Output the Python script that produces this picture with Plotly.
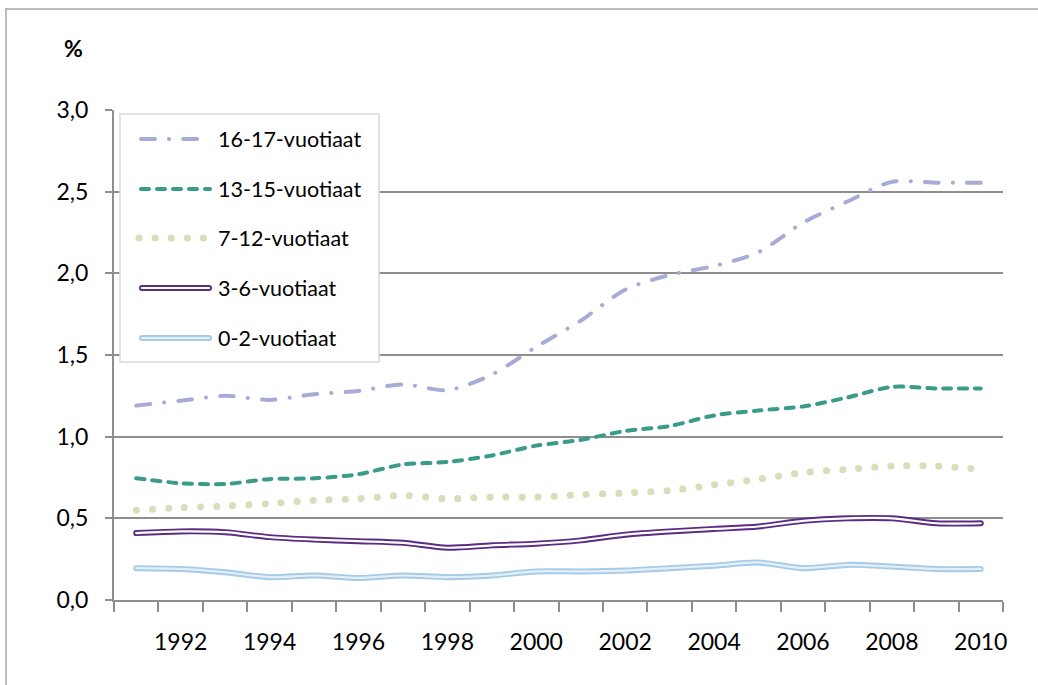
import plotly.graph_objects as go

years = list(range(1991, 2011))
tick_years = list(range(1992, 2011, 2))
tick_labels = [str(y) for y in tick_years]

s_16_17 = [1.19, 1.22, 1.25, 1.225, 1.26, 1.28, 1.32, 1.285, 1.38, 1.55,
           1.71, 1.90, 1.99, 2.045, 2.13, 2.31, 2.44, 2.56, 2.555, 2.555]
s_13_15 = [0.745, 0.715, 0.71, 0.74, 0.745, 0.77, 0.83, 0.845, 0.885, 0.945,
           0.98, 1.035, 1.065, 1.13, 1.16, 1.185, 1.24, 1.305, 1.295, 1.295]
s_7_12 = [0.55, 0.565, 0.575, 0.59, 0.61, 0.62, 0.64, 0.62, 0.63, 0.63,
          0.645, 0.655, 0.67, 0.705, 0.74, 0.78, 0.80, 0.82, 0.82, 0.80]
s_3_6 = [0.41, 0.42, 0.415, 0.385, 0.37, 0.36, 0.35, 0.32, 0.335, 0.345,
         0.365, 0.40, 0.42, 0.435, 0.45, 0.485, 0.50, 0.50, 0.47, 0.47]
s_0_2 = [0.195, 0.19, 0.17, 0.14, 0.15, 0.135, 0.15, 0.14, 0.15, 0.175,
         0.175, 0.18, 0.195, 0.21, 0.23, 0.195, 0.215, 0.205, 0.19, 0.19]

names = ["16-17-vuotiaat", "13-15-vuotiaat", "7-12-vuotiaat", "3-6-vuotiaat", "0-2-vuotiaat"]

C16 = "#A7ABD7"
C13 = "#3A9B8B"
C7 = "#D3E1B9"
C3 = "#5B2C83"
C0 = "#A6CBE6"
C0_IN = "#E2EFF9"
FONT = "Lato"
GRID = "#8E8E8E"

fig = go.Figure()
sm = 0.8
fig.add_trace(go.Scatter(x=years, y=s_0_2, mode="lines", name=names[4], showlegend=False,
                         line=dict(color=C0, width=6, shape="spline", smoothing=sm)))
fig.add_trace(go.Scatter(x=years, y=s_0_2, mode="lines", showlegend=False, hoverinfo="skip",
                         line=dict(color=C0_IN, width=2.2, shape="spline", smoothing=sm)))
fig.add_trace(go.Scatter(x=years, y=s_3_6, mode="lines", name=names[3], showlegend=False,
                         line=dict(color=C3, width=6, shape="spline", smoothing=sm)))
fig.add_trace(go.Scatter(x=years, y=s_3_6, mode="lines", showlegend=False, hoverinfo="skip",
                         line=dict(color="white", width=2.2, shape="spline", smoothing=sm)))
fig.add_trace(go.Scatter(x=years, y=s_7_12, mode="lines", name=names[2], showlegend=False,
                         line=dict(color=C7, width=7, dash="0.1px,16px", shape="spline", smoothing=sm)))
fig.add_trace(go.Scatter(x=years, y=s_13_15, mode="lines", name=names[1], showlegend=False,
                         line=dict(color=C13, width=4, dash="8px,8px", shape="spline", smoothing=sm)))
fig.add_trace(go.Scatter(x=years, y=s_16_17, mode="lines", name=names[0], showlegend=False,
                         line=dict(color=C16, width=4, dash="14px,14px,0.1px,14px", shape="spline", smoothing=sm)))

# plot area in pixels: x 114..1003, y 110..600
L, R, T, B = 114, 1003, 110, 600
W, H = R - L, B - T
def px(x):
    return (x - L) / W
def py(y):
    return (B - y) / H

shapes = []
# outer chart border (left and top)
shapes.append(dict(type="line", xref="paper", yref="paper", x0=px(6), x1=px(6), y0=py(9), y1=py(720),
                   line=dict(color="#A6A6A6", width=1.5)))
shapes.append(dict(type="line", xref="paper", yref="paper", x0=px(6), x1=px(1060), y0=py(9), y1=py(9),
                   line=dict(color="#A6A6A6", width=1.5)))
# legend box
shapes.append(dict(type="rect", xref="paper", yref="paper", x0=px(120), x1=px(379), y0=py(362), y1=py(114),
                   fillcolor="white", line=dict(color="#D9D9D9", width=1.5), layer="above"))
rows = [139, 189, 238, 288, 338]
styles = [
    [dict(color=C16, width=4, dash="14px,14px,0.1px,14px")],
    [dict(color=C13, width=4, dash="8px,8px")],
    [dict(color=C7, width=7, dash="0.1px,16px")],
    [dict(color=C3, width=6, dash="solid"), dict(color="white", width=2.2, dash="solid")],
    [dict(color=C0, width=6, dash="solid"), dict(color=C0_IN, width=2.2, dash="solid")],
]
x_start = [141, 141, 139, 142, 142]
x_end = [200, 210, 210, 209, 209]
for r, st, xs, xe in zip(rows, styles, x_start, x_end):
    for s in st:
        shapes.append(dict(type="line", xref="paper", yref="paper", x0=px(xs), x1=px(xe), y0=py(r), y1=py(r),
                           line=s, layer="above"))

annotations = []
for r, n in zip(rows, names):
    annotations.append(dict(xref="paper", yref="paper", x=px(216), y=py(r), text=n, showarrow=False,
                            xanchor="left", yanchor="middle", font=dict(family=FONT, size=21.5, color="black")))
annotations.append(dict(xref="paper", yref="paper", x=px(73), y=py(48), text="<b>%</b>", showarrow=False,
                        xanchor="center", yanchor="middle", font=dict(family=FONT, size=23, color="black")))

fig.update_layout(
    width=1038, height=685,
    margin=dict(l=L, r=1038 - R, t=T, b=685 - B),
    paper_bgcolor="white", plot_bgcolor="white",
    separators=", ",
    font=dict(family=FONT, size=23, color="black"),
    shapes=shapes, annotations=annotations,
    showlegend=False,
    xaxis=dict(range=[1990.5, 2010.5], tickmode="array", tickvals=tick_years, ticktext=tick_labels,
               ticks="outside", ticklen=0, tickcolor="rgba(0,0,0,0)", showgrid=False, zeroline=False,
               showline=True, linecolor=GRID, linewidth=2, ticklabelstandoff=20,
               minor=dict(tickmode="array", tickvals=[y - 0.5 for y in years] + [2010.5],
                          ticks="outside", ticklen=10, tickcolor=GRID, tickwidth=1.5, showgrid=False),
               tickfont=dict(family=FONT, size=23)),
    yaxis=dict(range=[0, 3], dtick=0.5, tick0=0, tickformat=".1f", showgrid=True, gridcolor=GRID,
               gridwidth=1.8, zeroline=False, showline=True, linecolor=GRID, linewidth=2,
               ticks="outside", ticklen=7, tickcolor=GRID, tickwidth=1.5, ticklabelstandoff=12,
               tickfont=dict(family=FONT, size=23)),
)

post = """
document.body.style.margin = '0';
document.body.style.padding = '0';
var gd = document.getElementById('{plot_id}');
function fixCaps(){
  gd.querySelectorAll('.scatterlayer .js-line, .shapelayer path').forEach(function(p){
    p.style.strokeLinecap = 'round'; p.style.strokeLinejoin = 'round';
  });
}
fixCaps();
if (gd.on) { gd.on('plotly_afterplot', fixCaps); }
"""
fig.write_html("out.html", post_script=post, config={"displayModeBar": False})
